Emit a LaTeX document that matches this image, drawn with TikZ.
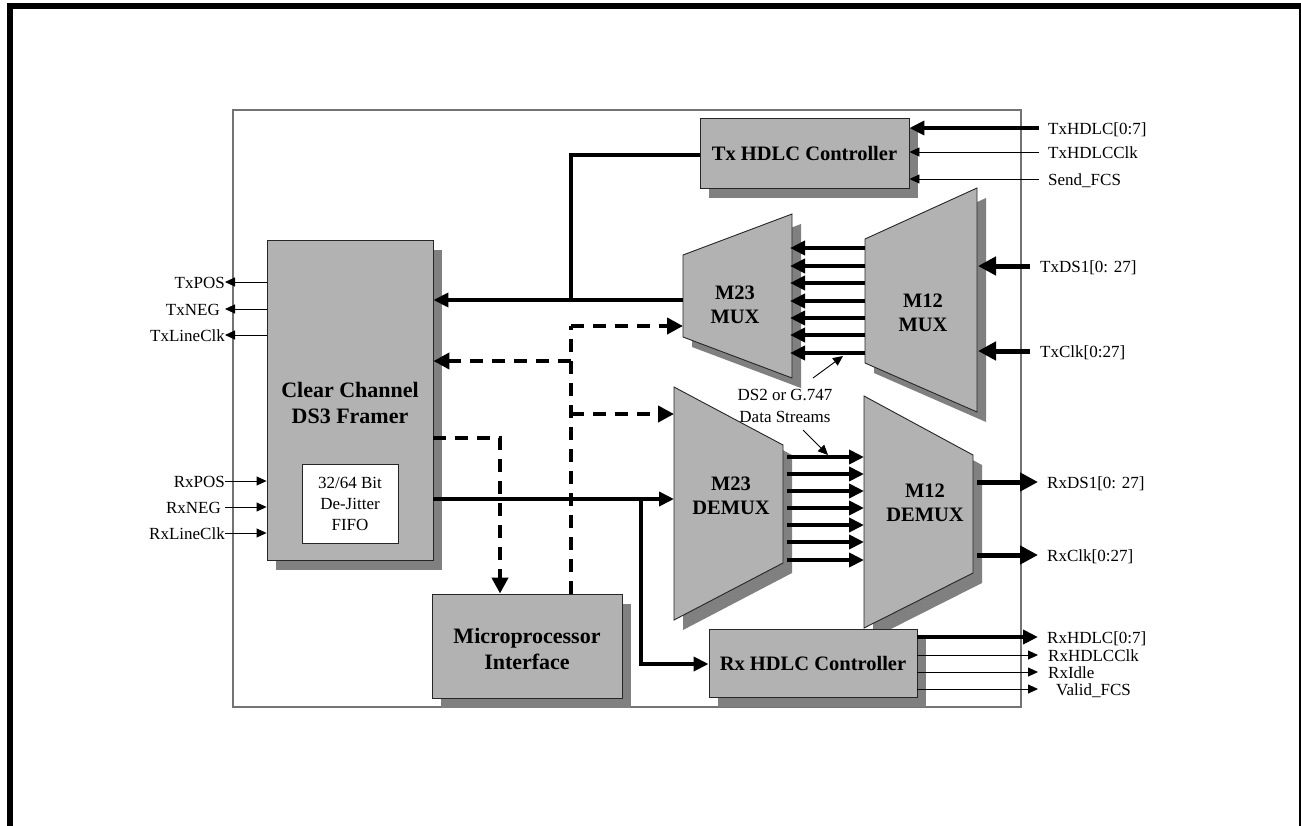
\documentclass[tikz,border=0pt]{standalone}
\usepackage{fontspec}
\setmainfont{Liberation Serif}
\usetikzlibrary{arrows.meta,shadows,calc}
\begin{document}
\begin{tikzpicture}[x=1pt,y=-1pt,
  boxfill/.style={fill=black!30, draw=black!85, line width=0.9pt},
  shadowfill/.style={fill=black!50},
  blk/.style={boxfill, inner sep=0pt, drop shadow={shadow xshift=9pt, shadow yshift=-10pt, fill=black!50, opacity=1}},
  bigtxt/.style={font=\fontsize{22}{26}\selectfont\bfseries, align=center},
  hdlctxt/.style={font=\fontsize{20.5}{24}\selectfont\bfseries, align=center},
  muxtxt/.style={font=\fontsize{20.5}{24}\selectfont\bfseries, align=center},
  sig/.style={font=\fontsize{17}{21}\selectfont, inner sep=0pt},
  thinarr/.style={line width=0.9pt, -{Triangle[length=10pt,width=9pt]}},
  thinln/.style={line width=0.9pt},
  thkarr/.style={line width=4pt, -{Triangle[length=15pt,width=14pt]}},
  thkln/.style={line width=4pt},
  bigarr/.style={line width=5pt, -{Triangle[length=18pt,width=18pt]}},
  dsharr/.style={line width=4pt, dash pattern=on 13pt off 9pt, -{Triangle[length=16pt,width=16pt]}},
  dshln/.style={line width=4pt, dash pattern=on 13pt off 9pt},
]
\useasboundingbox (0,0) rectangle (1301,825);
\fill[white] (0,0) rectangle (1301,825);
% outer frame
\draw[line width=6pt] (10,830) -- (10,6) -- (1310,6);
\draw[line width=6pt] (1302,6) -- (1302,830);
% chip boundary
\draw[black!55, line width=1.2pt] (233,110) rectangle (1021,707);

% trapezoid blocks (shadows first)
\begin{scope}[shift={(9,10)}]
  \fill[shadowfill] (683,255) -- (792,214) -- (792,378) -- (683,337) -- cycle;
  \fill[shadowfill] (865,239) -- (977,188) -- (977,412) -- (865,363) -- cycle;
  \fill[shadowfill] (674,387) -- (783,445) -- (783,563) -- (674,620) -- cycle;
  \fill[shadowfill] (864,396) -- (973,455) -- (973,573) -- (864,628) -- cycle;
\end{scope}
\filldraw[boxfill] (683,255) -- (792,214) -- (792,378) -- (683,337) -- cycle;
\filldraw[boxfill] (865,239) -- (977,188) -- (977,412) -- (865,363) -- cycle;
\filldraw[boxfill] (674,387) -- (783,445) -- (783,563) -- (674,620) -- cycle;
\filldraw[boxfill] (864,396) -- (973,455) -- (973,573) -- (864,628) -- cycle;
\coordinate (m23muxL) at (683,296);
\coordinate (m23muxR) at (790,296);
\coordinate (m12muxL) at (865,300);
\coordinate (m12muxR) at (978,300);
\coordinate (m23dmL) at (674,503);
\coordinate (m23dmR) at (787,503);
\coordinate (m12dmL) at (864,512);
\coordinate (m12dmR) at (977,512);
\node[muxtxt] (m23mux) at (735,305) {M23\\MUX};
\node[muxtxt] (m12mux) at (923,313) {M12\\MUX};
\node[muxtxt] (m23dm) at (731,496) {M23\\DEMUX};
\node[muxtxt] (m12dm) at (925,503) {M12\\DEMUX};

% rectangular blocks
\node[blk, minimum width=209pt, minimum height=70pt] (txh) at (804.5,153) {};
\node[hdlctxt] (txhl) at (txh.center) {Tx HDLC Controller};
\node[blk, minimum width=166pt, minimum height=320pt] (framer) at (350,400) {};
\node[bigtxt] (framerl) at (350,403) {Clear Channel\\DS3 Framer};
\node[fill=white, draw=black!85, line width=0.9pt, minimum width=96pt, minimum height=79pt, inner sep=0pt,
      font=\fontsize{17}{21}\selectfont, align=center] (fifo) at (350,503.5) {32/64 Bit\\De-Jitter\\FIFO};
\node[blk, minimum width=190pt, minimum height=104pt] (micro) at (527,646) {};
\node[bigtxt] (microl) at (527,649) {Microprocessor\\Interface};
\node[blk, minimum width=208pt, minimum height=68pt] (rxh) at (813,663) {};
\node[hdlctxt] (rxhl) at (rxh.center) {Rx HDLC Controller};

% internal buses
\foreach \yy in {248,266,283,301,318,335,353}
  \draw[thkarr] (m12muxL |- 0,\yy) -- (m23muxR |- 0,\yy);
\foreach \yy in {457,474,491,508,525,542,560}
  \draw[thkarr] (m23dmR |- 0,\yy) -- (m12dmL |- 0,\yy);
\node[sig, align=center] (ds2) at (785,406) {DS2 or G.747\\[1pt]Data Streams};
\draw[thinarr] (813,378) -- (843,356);
\draw[thinarr] (803,430) -- (828,455);

% Tx path
\coordinate (jtx) at (571,300);
\draw[thkarr] (m23muxL |- jtx) -- (framer.east |- jtx);
\draw[thkln] (txh.west |- 0,155) -- (jtx |- 0,155) -- (jtx);

% Rx path
\coordinate (jrx) at (641,499);
\draw[thkarr] (framer.east |- jrx) -- (m23dmL |- jrx);
\draw[thkarr] (jrx) -- (jrx |- 0,664) -- (rxh.west |- 0,664);

% microprocessor dashed buses
\coordinate (jup) at (571,326);
\draw[dshln] (micro.north -| jup) -- (jup);
\draw[dsharr] (jup) -- (m23muxL |- jup);
\draw[dsharr] (571,361) -- (framer.east |- 0,361);
\draw[dsharr] (571,414) -- (m23dmL |- 0,414);
\coordinate (jdn) at (500,438);
\draw[dsharr] (framer.east |- jdn) -- (jdn) -- (micro.north -| jdn);

% Tx HDLC inputs
\coordinate (tin) at (1039,0);
\draw[thkarr] (tin |- 0,128) -- (txh.east |- 0,128);
\draw[thinarr] (tin |- 0,152) -- (txh.east |- 0,152);
\draw[thinarr] (tin |- 0,179) -- (txh.east |- 0,179);
\node[sig, anchor=base west] (s1) at (1048,134) {TxHDLC[0:7]};
\node[sig, anchor=base west] (s2) at (1048,158) {TxHDLCClk};
\node[sig, anchor=base west] (s3) at (1048,185) {Send\_FCS};

% M12 MUX inputs
\draw[bigarr] (1030,266) -- (m12muxR |- 0,266);
\draw[bigarr] (1030,351) -- (m12muxR |- 0,351);
\node[sig, anchor=base west] (s4) at (1040,272) {TxDS1[0: 27]};
\node[sig, anchor=base west] (s5) at (1040,357) {TxClk[0:27]};

% M12 DEMUX outputs
\draw[bigarr] (m12dmR |- 0,482) -- (1038,482);
\draw[bigarr] (m12dmR |- 0,555) -- (1038,555);
\node[sig, anchor=base west] (s6) at (1047,488) {RxDS1[0: 27]};
\node[sig, anchor=base west] (s7) at (1047,561) {RxClk[0:27]};

% Rx HDLC outputs
\draw[thkarr] (rxh.east |- 0,637) -- (1038,637);
\draw[thinarr] (rxh.east |- 0,655) -- (1038,655);
\draw[thinarr] (rxh.east |- 0,672) -- (1038,672);
\draw[thinarr] (rxh.east |- 0,689) -- (1038,689);
\node[sig, anchor=base west] (s8) at (1047,643) {RxHDLC[0:7]};
\node[sig, anchor=base west] (s9) at (1048,661) {RxHDLCClk};
\node[sig, anchor=base west] (s10) at (1048,678) {RxIdle};
\node[sig, anchor=base west] (s11) at (1056,695) {Valid\_FCS};

% framer line side
\draw[thinarr] (framer.west |- 0,282) -- (225,282);
\draw[thinarr] (framer.west |- 0,309) -- (225,309);
\draw[thinarr] (framer.west |- 0,335) -- (225,335);
\node[sig, anchor=base east] (l1) at (225,288) {TxPOS};
\node[sig, anchor=base east] (l2) at (220,315) {TxNEG};
\node[sig, anchor=base east] (l3) at (225,341) {TxLineClk};
\draw[thinarr] (225,481) -- (framer.west |- 0,481);
\draw[thinarr] (225,507) -- (framer.west |- 0,507);
\draw[thinarr] (225,533) -- (framer.west |- 0,533);
\node[sig, anchor=base east] (l4) at (225,487) {RxPOS};
\node[sig, anchor=base east] (l5) at (221,513) {RxNEG};
\node[sig, anchor=base east] (l6) at (225,539) {RxLineClk};
\end{tikzpicture}
\end{document}
